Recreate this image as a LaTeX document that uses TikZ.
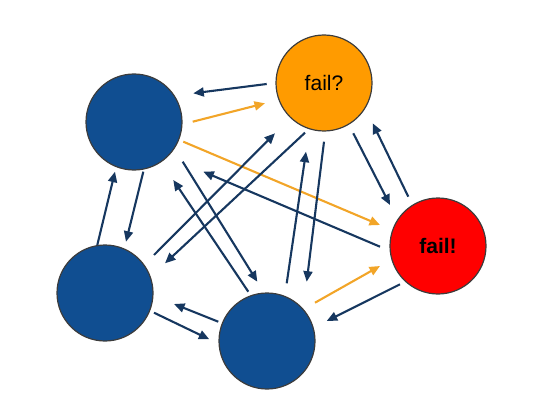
\documentclass[tikz,border=0pt]{standalone}
\usepackage{fontspec}
\setmainfont{Liberation Sans}
\usetikzlibrary{arrows.meta}
\definecolor{nodeblue}{RGB}{16,78,145}
\definecolor{navy}{RGB}{22,55,95}
\definecolor{orfill}{RGB}{255,155,0}
\definecolor{orarrow}{RGB}{242,165,40}
\definecolor{redfill}{RGB}{255,0,0}
\definecolor{rim}{RGB}{60,60,60}
\tikzset{
  peer/.style={circle, draw=rim, line width=1.2pt, minimum size=96pt, inner sep=0pt,
    font=\fontsize{21}{25}\selectfont},
  arr/.style={draw=navy, line width=2.1pt, -{Triangle[length=10.5pt,width=9pt]}},
  oarr/.style={draw=orarrow, line width=2.1pt, -{Triangle[length=10.5pt,width=9pt]}}
}
\newcommand{\at}[3]{([shift={(#2,#3)}]#1.center)}
\begin{document}
\begin{tikzpicture}[x=1pt,y=-1pt]
\useasboundingbox (0,0) rectangle (556,401);
\node[peer, fill=nodeblue] (A) at (134,122) {};
\node[peer, fill=orfill] (B) at (324,83) {fail?};
\node[peer, fill=redfill] (C) at (438,246) {\bfseries fail!};
\node[peer, fill=nodeblue] (D) at (105,293) {};
\node[peer, fill=nodeblue] (E) at (267,341) {};
% A <-> B
\draw[arr]  \at{B}{-57.3}{1} -- \at{A}{59.3}{-28.7};
\draw[oarr] \at{A}{58.7}{-0.3} -- \at{B}{-59}{20.3};
% A <-> C
\draw[oarr] \at{A}{49.3}{19.7} -- \at{C}{-58}{-21};
\draw[arr]  \at{C}{-58}{0.7} -- \at{A}{69.3}{49.7};
% B <-> C
\draw[arr]  \at{B}{29.3}{50.3} -- \at{C}{-48}{-41};
\draw[arr]  \at{C}{-29.7}{-49.3} -- \at{B}{48.7}{40.3};
% A <-> D
\draw[arr]  \at{A}{9.3}{49.7} -- \at{D}{21}{-51.3};
\draw[arr]  \at{D}{-7.7}{-48} -- \at{A}{-19}{49.7};
% D <-> B
\draw[arr]  \at{D}{49}{-38} -- \at{B}{-49}{50.3};
\draw[arr]  \at{B}{-19}{49.7} -- \at{D}{60}{-29.7};
% A <-> E
\draw[arr]  \at{A}{48.7}{39.7} -- \at{E}{-9.7}{-59.3};
\draw[arr]  \at{E}{-18.7}{-49.3} -- \at{A}{39.3}{58};
% E <-> B
\draw[arr]  \at{E}{19.7}{-57.7} -- \at{B}{-18}{68.7};
\draw[arr]  \at{B}{0}{58.7} -- \at{E}{39.7}{-59.3};
% E <-> C
\draw[oarr] \at{E}{48}{-38.3} -- \at{C}{-58}{20};
\draw[arr]  \at{C}{-38}{38.3} -- \at{E}{59.7}{-20};
% E <-> D
\draw[arr]  \at{E}{-48.7}{-19.3} -- \at{D}{69}{11};
\draw[arr]  \at{D}{49}{19.7} -- \at{E}{-57.7}{-1.7};
\end{tikzpicture}
\end{document}
